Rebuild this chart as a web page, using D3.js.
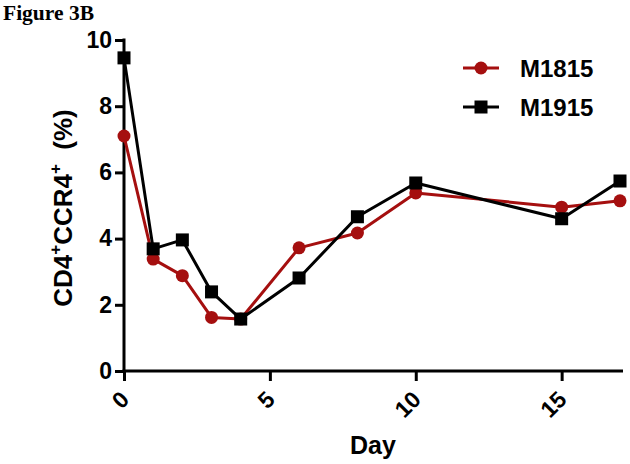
<!DOCTYPE html>
<html><head><meta charset="utf-8">
<script src="https://cdn.jsdelivr.net/npm/d3@7"></script>
<style>body{margin:0;background:#fff}svg{display:block}</style>
</head><body>
<script>
const days = [0, 1, 2, 3, 4, 6, 8, 10, 15, 17];
const m1815 = [7.1, 3.38, 2.88, 1.62, 1.57, 3.72, 4.17, 5.38, 4.95, 5.14];
const m1915 = [9.46, 3.69, 3.96, 2.39, 1.57, 2.81, 4.66, 5.68, 4.6, 5.74];
const xTicks = [0, 5, 10, 15];
const yTicks = [0, 2, 4, 6, 8, 10];
const seriesNames = ["M1815", "M1915"];
const seriesColors = ["#a50f0f", "#000000"];

const W = 630, H = 464;
const svg = d3.select("body").append("svg").attr("width", W).attr("height", H);
const x = d3.scaleLinear().domain([0, 17]).range([124, 620]);
const y = d3.scaleLinear().domain([0, 10]).range([371, 40]);
const font = "'Liberation Sans', Arial, sans-serif";

svg.append("text").attr("x", 3).attr("y", 20).attr("font-family", "'Liberation Serif', 'Times New Roman', serif")
  .attr("font-weight", "bold").attr("font-size", 21.5).text("Figure 3B");

const yAxis = svg.append("g").attr("transform", `translate(${x(0)},0)`)
  .call(d3.axisLeft(y).tickValues(yTicks).tickSize(9).tickPadding(3).tickSizeOuter(0));
const xAxis = svg.append("g").attr("transform", `translate(0,${y(0)})`)
  .call(d3.axisBottom(x).tickValues(xTicks).tickSize(10).tickSizeOuter(0));
[yAxis, xAxis].forEach(g => {
  g.select(".domain").attr("stroke", "#000").attr("stroke-width", 3);
  g.selectAll(".tick line").attr("stroke", "#000").attr("stroke-width", 3);
  g.selectAll(".tick text").attr("font-family", font).attr("font-weight", "bold")
    .attr("font-size", 23).attr("fill", "#000");
});
xAxis.select(".domain").attr("d", `M${x(0)-1.5},0H${x(17)+3}`);
yAxis.select(".domain").attr("d", `M0,${y(10)-1.5}V${y(0)}`);
xAxis.selectAll(".tick text")
  .attr("text-anchor", "end").attr("dy", 0).attr("y", 0)
  .attr("transform", "translate(6,30) rotate(-45)");

svg.append("text").attr("x", 373).attr("y", 454).attr("text-anchor", "middle")
  .attr("font-family", font).attr("font-weight", "bold").attr("font-size", 25).text("Day");

const yl = svg.append("text").attr("transform", "translate(72,208) rotate(-90)")
  .attr("text-anchor", "middle").attr("font-family", font).attr("font-weight", "bold").attr("font-size", 26);
yl.append("tspan").text("CD4");
yl.append("tspan").attr("dy", -11).attr("font-size", 17).text("+");
yl.append("tspan").attr("dy", 11).text("CCR4");
yl.append("tspan").attr("dy", -11).attr("font-size", 17).text("+");
yl.append("tspan").attr("dy", 11).text("\u00a0\u00a0(%)");

const series = [m1815, m1915];
const line = d3.line().x((d, i) => x(days[i])).y(d => y(d));
series.forEach((vals, s) => {
  svg.append("path").datum(vals).attr("d", line).attr("fill", "none")
    .attr("stroke", seriesColors[s]).attr("stroke-width", 3).attr("stroke-linejoin", "round");
});
series.forEach((vals, s) => {
  const g = svg.append("g");
  if (s === 0) {
    g.selectAll("circle").data(vals).join("circle")
      .attr("cx", (d, i) => x(days[i])).attr("cy", d => y(d)).attr("r", 6.5).attr("fill", seriesColors[s]);
  } else {
    g.selectAll("rect").data(vals).join("rect")
      .attr("x", (d, i) => x(days[i]) - 6.5).attr("y", d => y(d) - 6.5)
      .attr("width", 13).attr("height", 13).attr("fill", seriesColors[s]);
  }
});

const legY = [68, 107];
seriesNames.forEach((n, s) => {
  const g = svg.append("g");
  g.append("line").attr("x1", 463).attr("x2", 499).attr("y1", legY[s]).attr("y2", legY[s])
    .attr("stroke", seriesColors[s]).attr("stroke-width", 3);
  if (s === 0) g.append("circle").attr("cx", 481).attr("cy", legY[s]).attr("r", 6.5).attr("fill", seriesColors[s]);
  else g.append("rect").attr("x", 474.5).attr("y", legY[s] - 6.5).attr("width", 13).attr("height", 13).attr("fill", seriesColors[s]);
  g.append("text").attr("x", 520).attr("y", legY[s] + 8.5).attr("font-family", font).attr("font-weight", "bold")
    .attr("font-size", 24).text(n);
});
</script>
</body></html>
